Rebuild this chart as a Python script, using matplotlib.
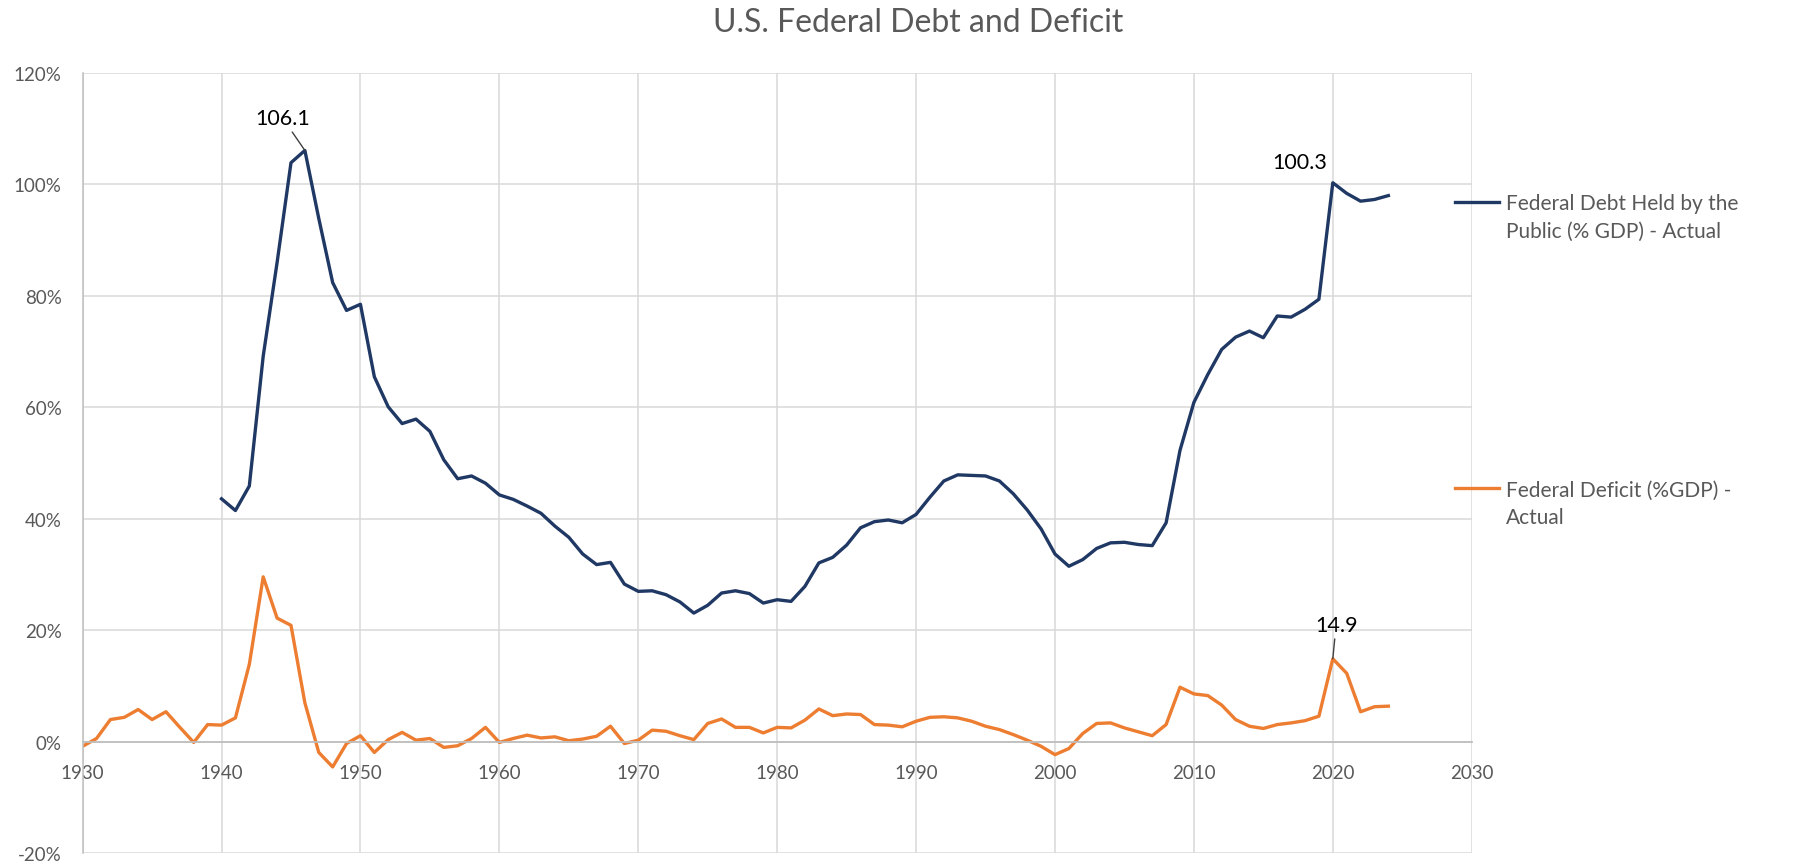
import matplotlib
matplotlib.use("Agg")
import matplotlib.pyplot as plt
from matplotlib.lines import Line2D
from matplotlib.ticker import FuncFormatter, MultipleLocator

# debt held by the public, % of GDP (1940-2024)
debt_years = list(range(1940, 2025))
debt = [43.6, 41.5, 45.9, 69.2, 86.0, 103.9, 106.1, 93.9, 82.4, 77.4,
        78.5, 65.5, 60.1, 57.1, 57.9, 55.7, 50.6, 47.2, 47.7, 46.4,
        44.3, 43.5, 42.3, 41.0, 38.7, 36.7, 33.7, 31.8, 32.2, 28.3,
        27.0, 27.1, 26.4, 25.1, 23.1, 24.5, 26.7, 27.1, 26.6, 24.9,
        25.5, 25.2, 27.9, 32.1, 33.1, 35.3, 38.4, 39.5, 39.8, 39.3,
        40.8, 43.9, 46.8, 47.9, 47.8, 47.7, 46.8, 44.5, 41.6, 38.2,
        33.7, 31.5, 32.7, 34.7, 35.7, 35.8, 35.4, 35.2, 39.3, 52.3,
        60.9, 65.9, 70.4, 72.6, 73.7, 72.5, 76.4, 76.2, 77.6, 79.4,
        100.3, 98.4, 97.0, 97.3, 98.0]

# federal deficit, % of GDP (1930-2024), negative = surplus
deficit_years = list(range(1930, 2025))
deficit = [-0.8, 0.6, 4.0, 4.4, 5.8, 4.0, 5.4, 2.6, -0.1, 3.1,
           3.0, 4.3, 13.9, 29.6, 22.2, 20.9, 7.0, -1.9, -4.5, -0.3,
           1.1, -1.9, 0.4, 1.7, 0.3, 0.6, -1.0, -0.7, 0.6, 2.6,
           -0.1, 0.6, 1.2, 0.7, 0.9, 0.2, 0.5, 1.0, 2.8, -0.3,
           0.3, 2.1, 1.9, 1.1, 0.4, 3.3, 4.1, 2.6, 2.6, 1.6,
           2.6, 2.5, 3.9, 5.9, 4.7, 5.0, 4.9, 3.1, 3.0, 2.7,
           3.7, 4.4, 4.5, 4.3, 3.7, 2.8, 2.2, 1.3, 0.3, -0.8,
           -2.3, -1.2, 1.5, 3.3, 3.4, 2.5, 1.8, 1.1, 3.1, 9.8,
           8.6, 8.3, 6.6, 4.0, 2.8, 2.4, 3.1, 3.4, 3.8, 4.6,
           14.9, 12.3, 5.4, 6.3, 6.4]

debt_label = "Federal Debt Held by the\nPublic (% GDP) - Actual"
deficit_label = "Federal Deficit (%GDP) -\nActual"

navy = "#203864"
orange = "#ED7D31"
grey_text = "#595959"

plt.rcParams['font.family'] = ['Lato', 'DejaVu Sans']

fig = plt.figure(figsize=(18.08, 8.62), dpi=100)
ax = fig.add_axes([0.0457, 0.0089, 0.814 - 0.0457, 0.9142 - 0.0089])

ax.plot(debt_years, debt, color=navy, lw=2.4, solid_joinstyle='round')
ax.plot(deficit_years, deficit, color=orange, lw=2.4, solid_joinstyle='round')

ax.set_xlim(1930, 2030)
ax.set_ylim(-20, 120)
ax.xaxis.set_major_locator(MultipleLocator(10))
ax.yaxis.set_major_locator(MultipleLocator(20))
ax.yaxis.set_major_formatter(FuncFormatter(lambda v, p: f"{v:.0f}%"))

ax.grid(True, color="#D9D9D9", lw=1.1)
ax.set_axisbelow(True)
for s in ['top', 'right']:
    ax.spines[s].set_visible(False)
ax.spines['bottom'].set_position(('data', 0))
ax.spines['bottom'].set_color("#BFBFBF")
ax.spines['bottom'].set_linewidth(1.3)
ax.spines['left'].set_color("#BFBFBF")
ax.spines['left'].set_linewidth(1.1)
ax.tick_params(axis='both', length=0, labelsize=13.5, labelcolor=grey_text)
ax.tick_params(axis='x', pad=16)
ax.tick_params(axis='y', pad=15)

# data labels
ax.annotate("106.1", xy=(1946, 106.1), xytext=(1944.4, 111.9),
            ha='center', va='center', fontsize=15.5, color="black",
            arrowprops=dict(arrowstyle='-', color="#404040", lw=1,
                            shrinkA=1, shrinkB=0))
ax.text(2017.6, 104.0, "100.3", ha='center', va='center', fontsize=15.5, color="black")
ax.annotate("14.9", xy=(2020, 14.9), xytext=(2020.24, 21.0),
            ha='center', va='center', fontsize=15.5, color="black",
            arrowprops=dict(arrowstyle='-', color="#404040", lw=1,
                            shrinkA=1, shrinkB=0))

fig.text(0.508, 0.973, "U.S. Federal Debt and Deficit", ha='center', va='center',
         fontsize=23, color=grey_text)

# legend, laid out like the spreadsheet one (swatch level with the first text line)
for color, label, y_line in [(navy, debt_label, 0.7645), (orange, deficit_label, 0.4327)]:
    fig.add_artist(Line2D([0.8048, 0.8291], [y_line, y_line], transform=fig.transFigure,
                          color=color, lw=2.4))
    fig.text(0.833, y_line - 0.0175, label, ha='left', va='center', fontsize=15,
             color=grey_text, linespacing=1.45)

fig.savefig("out.png", dpi=100)
